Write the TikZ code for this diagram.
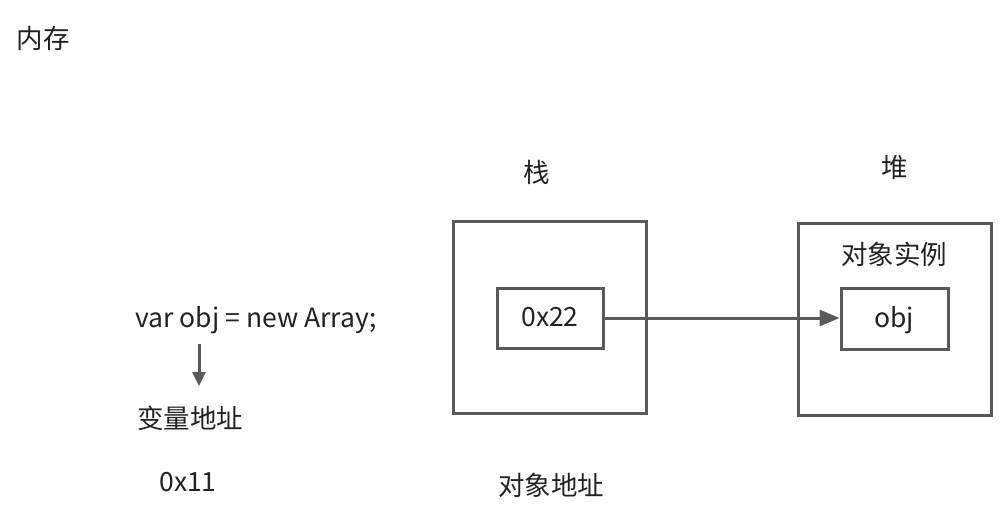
\documentclass[tikz,border=0pt]{standalone}
\usepackage{fontspec}
\setmainfont{Noto Sans CJK SC}
\usetikzlibrary{arrows.meta}
\definecolor{ln}{HTML}{595959}
\definecolor{tx}{HTML}{222222}
\tikzset{
  box/.style={draw=ln, line width=3pt, fill=white, inner sep=0pt},
  lbl/.style={text=tx, font=\fontsize{26.5}{30}\selectfont, inner sep=0pt, anchor=center},
  conn/.style={draw=ln, line width=3pt, -{Triangle[length=20pt,width=16pt]}}
}
\begin{document}
\begin{tikzpicture}[x=1pt,y=-1pt]
\useasboundingbox (0,0) rectangle (1004,520);
\node[lbl] (mem) at (43,38) {内存};
\node[lbl] (zhan) at (537,172) {栈};
\node[lbl] (dui) at (895,168) {堆};
\node[box, minimum width=193pt, minimum height=192pt] (stack) at (550,317) {};
\node[box, minimum width=106pt, minimum height=60pt] (addr) at (550,318) {};
\node[lbl] (addrt) at (550,317) {0x22};
\node[box, minimum width=193pt, minimum height=192pt] (heap) at (894.5,319) {};
\node[lbl] (inst) at (894,254) {对象实例};
\node[box, minimum width=107pt, minimum height=61pt] (obj) at (894.5,319) {};
\node[lbl] (objt) at (894,320) {obj};
\draw[conn] (addr.east) -- (addr.east -| obj.west);
\node[lbl] (code) at (256,320) {var obj = new Array;};
\node[lbl] (var) at (190,418) {变量地址};
\coordinate (a1) at (199,344);
\coordinate (a2) at (199,386);
\draw[conn, -{Triangle[length=14pt,width=13pt]}] (a1) -- (a2);
\node[lbl] (x11) at (188,482) {0x11};
\node[lbl] (objaddr) at (551,485) {对象地址};
\end{tikzpicture}
\end{document}
